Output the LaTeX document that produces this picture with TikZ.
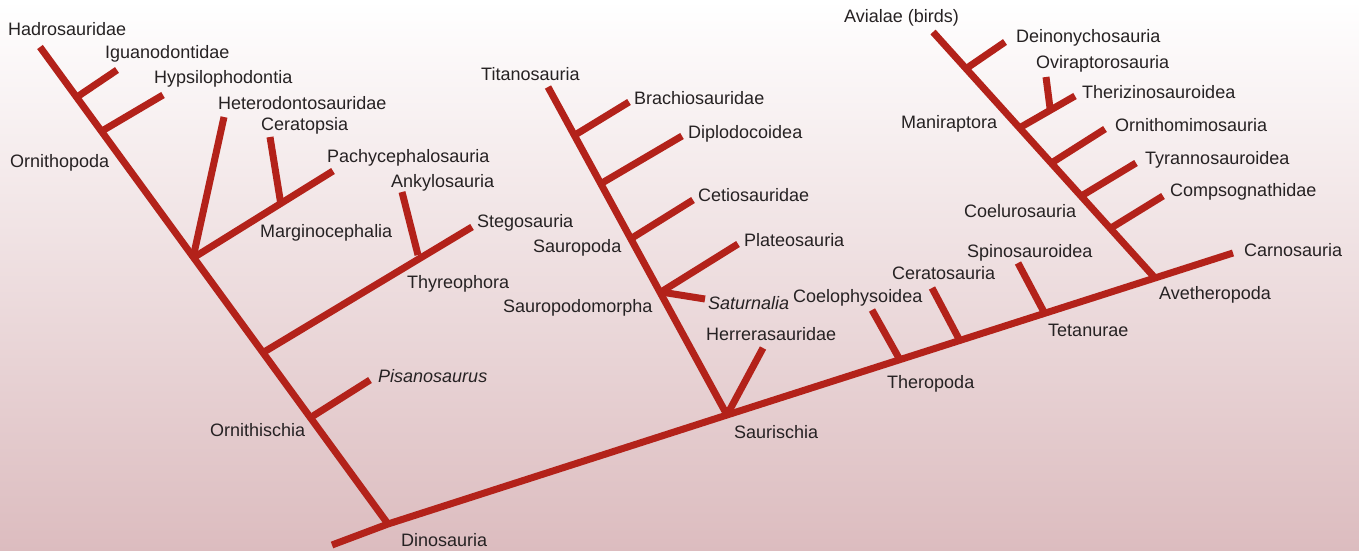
\documentclass[tikz,border=0pt]{standalone}
\usepackage{fontspec}
\setmainfont{Liberation Sans}
\begin{document}
\begin{tikzpicture}[x=1pt,y=-1pt,
  br/.style={draw=treered,line width=7pt,line cap=butt},
  lbl/.style={anchor=base west,inner sep=0pt,text=txt,font=\fontsize{18}{21}\selectfont}]
\definecolor{treered}{HTML}{B3221A}
\definecolor{txt}{HTML}{262223}
\definecolor{bgbot}{HTML}{DCBCBF}
\definecolor{bgmid}{HTML}{EADFE1}
\useasboundingbox (0,0) rectangle (1359,551);
\shade[top color=white,middle color=bgmid,bottom color=bgbot] (0,0) rectangle (1359,551);
% coordinates
\coordinate (root) at (332,545);
\coordinate (dino) at (388,524);
\coordinate (saur) at (727,415);
\coordinate (carn) at (1233,253);
% Ornithischia
\coordinate (hadro) at (40,47);
\coordinate (igN) at (77,97);
\coordinate (igE) at (117,70);
\coordinate (hyN) at (102,131);
\coordinate (hyE) at (163,95);
\coordinate (geN) at (193,258);
\coordinate (hetE) at (224,117);
\coordinate (marN) at (281,205);
\coordinate (cerE) at (270,137);
\coordinate (pacE) at (333,171);
\coordinate (thN) at (264,352);
\coordinate (ankN) at (418,255);
\coordinate (ankE) at (402,192);
\coordinate (stegE) at (472,227);
\coordinate (pisN) at (313,416);
\coordinate (pisE) at (370,380);
% Sauropodomorpha
\coordinate (titan) at (548,87);
\coordinate (brN) at (575,135);
\coordinate (brE) at (629,102);
\coordinate (diN) at (602,183);
\coordinate (diE) at (682,136);
\coordinate (ceN) at (632,238);
\coordinate (ceE) at (693,200);
\coordinate (saN) at (661,292);
\coordinate (plE) at (738,244);
\coordinate (satE) at (705,299);
\coordinate (herE) at (763,348);
% Theropoda
\coordinate (coN) at (900,360);
\coordinate (coE) at (872,310);
\coordinate (ctN) at (960,341);
\coordinate (ctE) at (932,288);
\coordinate (spN) at (1045,314);
\coordinate (spE) at (1018,263);
\coordinate (avN) at (1155,278);
\coordinate (avi) at (933,32);
\coordinate (deN) at (967,68);
\coordinate (deE) at (1005,42);
\coordinate (thzN) at (1021,127);
\coordinate (thzE) at (1075,96);
\coordinate (ovN) at (1050,108);
\coordinate (ovE) at (1046,77);
\coordinate (orN) at (1053,162);
\coordinate (orE) at (1105,129);
\coordinate (tyN) at (1083,195);
\coordinate (tyE) at (1136,163);
\coordinate (cpN) at (1111,228);
\coordinate (cpE) at (1163,196);
% branches
\draw[br] (root) -- (dino) -- (saur) -- (carn);
\draw[br] (dino) -- (hadro);
\draw[br] (igN) -- (igE);
\draw[br] (hyN) -- (hyE);
\draw[br] (geN) -- (hetE);
\draw[br] (geN) -- (pacE);
\draw[br] (marN) -- (cerE);
\draw[br] (thN) -- (stegE);
\draw[br] (ankN) -- (ankE);
\draw[br] (pisN) -- (pisE);
\draw[br] (saur) -- (titan);
\draw[br] (brN) -- (brE);
\draw[br] (diN) -- (diE);
\draw[br] (ceN) -- (ceE);
\draw[br] (saN) -- (plE);
\draw[br] (saN) -- (satE);
\draw[br] (saur) -- (herE);
\draw[br] (coN) -- (coE);
\draw[br] (ctN) -- (ctE);
\draw[br] (spN) -- (spE);
\draw[br] (avN) -- (avi);
\draw[br] (deN) -- (deE);
\draw[br] (thzN) -- (thzE);
\draw[br] (ovN) -- (ovE);
\draw[br] (orN) -- (orE);
\draw[br] (tyN) -- (tyE);
\draw[br] (cpN) -- (cpE);
% labels
\node[lbl] (l1) at (8,36) {Hadrosauridae};
\node[lbl] (l2) at (105,59) {Iguanodontidae};
\node[lbl] (l3) at (154,84) {Hypsilophodontia};
\node[lbl] (l4) at (218,109) {Heterodontosauridae};
\node[lbl] (l5) at (261,130) {Ceratopsia};
\node[lbl] (l6) at (10,167) {Ornithopoda};
\node[lbl] (l7) at (327,162) {Pachycephalosauria};
\node[lbl] (l8) at (391,187) {Ankylosauria};
\node[lbl] (l9) at (260,237) {Marginocephalia};
\node[lbl] (l10) at (477,227) {Stegosauria};
\node[lbl] (l11) at (407,288) {Thyreophora};
\node[lbl] (l12) at (378,382) {\itshape Pisanosaurus};
\node[lbl] (l13) at (210,436) {Ornithischia};
\node[lbl] (l14) at (401,546) {Dinosauria};
\node[lbl] (l15) at (481,80) {Titanosauria};
\node[lbl] (l16) at (634,104) {Brachiosauridae};
\node[lbl] (l17) at (688,138) {Diplodocoidea};
\node[lbl] (l18) at (698,201) {Cetiosauridae};
\node[lbl] (l19) at (533,252) {Sauropoda};
\node[lbl] (l20) at (744,246) {Plateosauria};
\node[lbl] (l21) at (503,312) {Sauropodomorpha};
\node[lbl] (l22) at (708,309) {\itshape Saturnalia};
\node[lbl] (l23) at (706,340) {Herrerasauridae};
\node[lbl] (l24) at (734,438) {Saurischia};
\node[lbl] (l25) at (793,302) {Coelophysoidea};
\node[lbl] (l26) at (892,279) {Ceratosauria};
\node[lbl] (l27) at (887,388) {Theropoda};
\node[lbl] (l28) at (967,257) {Spinosauroidea};
\node[lbl] (l29) at (1048,336) {Tetanurae};
\node[lbl] (l30) at (1159,299) {Avetheropoda};
\node[lbl] (l31) at (1244,256) {Carnosauria};
\node[lbl] (l32) at (964,217) {Coelurosauria};
\node[lbl] (l33) at (1170,196) {Compsognathidae};
\node[lbl] (l34) at (1145,164) {Tyrannosauroidea};
\node[lbl] (l35) at (1115,131) {Ornithomimosauria};
\node[lbl] (l36) at (901,128) {Maniraptora};
\node[lbl] (l37) at (1082,98) {Therizinosauroidea};
\node[lbl] (l38) at (1036,69) {Oviraptorosauria};
\node[lbl] (l39) at (1016,43) {Deinonychosauria};
\node[lbl] (l40) at (844,23) {Avialae (birds)};
\end{tikzpicture}
\end{document}
